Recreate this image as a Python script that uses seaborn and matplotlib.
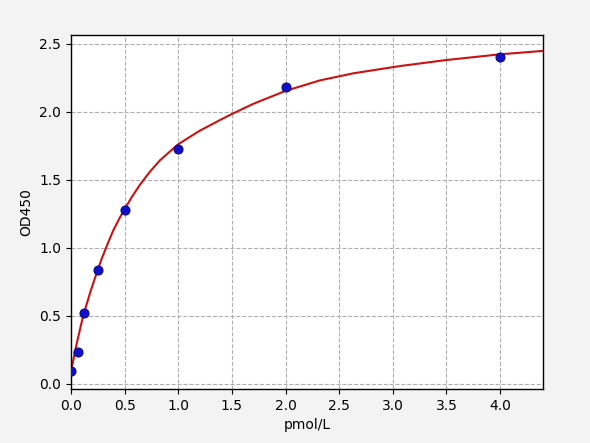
import numpy as np
import pandas as pd
import matplotlib
matplotlib.use("Agg")
import matplotlib.pyplot as plt
import seaborn as sns

# standard points
conc = [0.0, 0.0625, 0.125, 0.25, 0.5, 1.0, 2.0, 4.0]
od450 = [0.093, 0.235, 0.52, 0.838, 1.279, 1.728, 2.186, 2.406]

# fitted curve
curve_x = [0.0, 0.047, 0.113, 0.186, 0.249, 0.286, 0.357, 0.395, 0.45,
           0.503, 0.57, 0.643, 0.73, 0.83, 1.0, 1.2, 1.4, 1.5, 1.7, 2.0,
           2.32, 2.63, 3.07, 3.5, 4.0, 4.4]
curve_y = [0.09, 0.274, 0.50, 0.69, 0.838, 0.92, 1.06, 1.13, 1.215,
           1.29, 1.378, 1.465, 1.555, 1.645, 1.763, 1.862, 1.945, 1.985,
           2.06, 2.155, 2.232, 2.284, 2.338, 2.382, 2.424, 2.449]

x_ticks = [0.0, 0.5, 1.0, 1.5, 2.0, 2.5, 3.0, 3.5, 4.0]
y_ticks = [0.0, 0.5, 1.0, 1.5, 2.0, 2.5]

pts = pd.DataFrame({"pmol/L": conc, "OD450": od450})
fit = pd.DataFrame({"pmol/L": curve_x, "OD450": curve_y})

fig = plt.figure(figsize=(5.9, 4.43), dpi=100, facecolor="#f3f3f3")
ax = fig.add_axes([0.1203, 0.1219, 0.8, 0.7991])
ax.set_facecolor("white")

sns.lineplot(data=fit, x="pmol/L", y="OD450", ax=ax, color="#cc1111",
             linewidth=1.5, zorder=2, sort=False)
sns.scatterplot(data=pts, x="pmol/L", y="OD450", ax=ax, color="#1010c8",
                edgecolor="#0a0a90", s=42, linewidth=0.8, zorder=3)

ax.set_xlim(0, 4.4)
ax.set_ylim(-0.037, 2.566)
ax.set_xticks(x_ticks)
ax.set_yticks(y_ticks)
ax.set_xticklabels([f"{v:.1f}" for v in x_ticks])
ax.set_yticklabels([f"{v:.1f}" for v in y_ticks])
ax.grid(True, linestyle="--", color="#b0b0b0", linewidth=0.8)
ax.set_axisbelow(True)
for s in ax.spines.values():
    s.set_color("black")
    s.set_linewidth(1.0)
ax.tick_params(labelsize=10, color="black")
ax.set_xlabel("pmol/L", fontsize=10)
ax.set_ylabel("OD450", fontsize=10)

fig.savefig("out.png", dpi=100, facecolor=fig.get_facecolor())
